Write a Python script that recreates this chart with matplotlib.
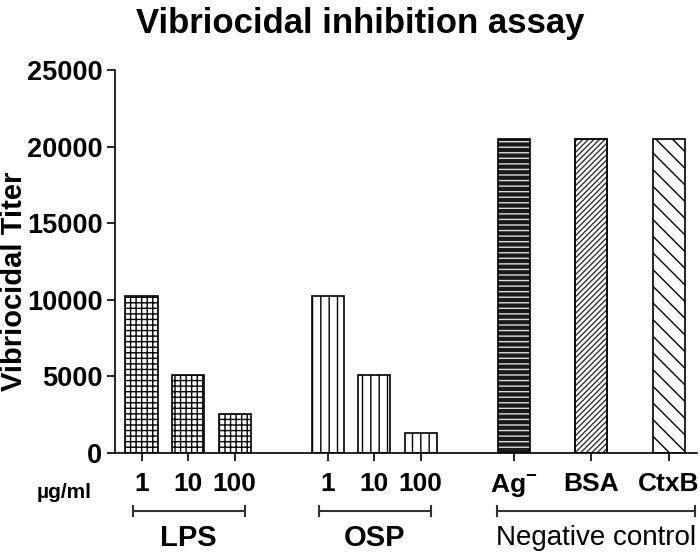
import matplotlib.pyplot as plt
from matplotlib.transforms import blended_transform_factory

plt.rcParams['font.family'] = ['Liberation Sans', 'DejaVu Sans']
plt.rcParams['mathtext.fontset'] = 'custom'
plt.rcParams['mathtext.rm'] = 'Liberation Sans:bold'
plt.rcParams['mathtext.bf'] = 'Liberation Sans:bold'
plt.rcParams['hatch.linewidth'] = 1.0

# data
lps_doses = ['1', '10', '100']
lps_titer = [10240, 5120, 2560]
osp_doses = ['1', '10', '100']
osp_titer = [10240, 5120, 1280]
neg_names = ['Ag$^{\\mathbf{-}}$', 'BSA', 'CtxB']
neg_titer = [20480, 20480, 20480]
groups = ['LPS', 'OSP', 'Negative control']
yticks = [0, 5000, 10000, 15000, 20000, 25000]

# layout
lps_x = [0, 1, 2]
osp_x = [4, 5, 6]
neg_x = [8, 9.67, 11.33]
bar_w = 0.69

fig = plt.figure(figsize=(7, 5.53), dpi=100)
ax = fig.add_axes([115 / 700, 1 - 453 / 553, (697 - 115) / 700, (453 - 70) / 553])

ax.bar(lps_x, lps_titer, bar_w, color='white', edgecolor='black', hatch='+++', linewidth=1.2)
ax.bar(osp_x, osp_titer, bar_w, color='white', edgecolor='black', hatch='||', linewidth=1.2)

# brick pattern for Ag-: dark fill with light mortar lines
ax.bar(neg_x[0], neg_titer[0], bar_w, color='#1a1a1a', edgecolor='#dddddd', hatch='---', linewidth=0)
ax.bar(neg_x[0], neg_titer[0], bar_w, fill=False, edgecolor='black', linewidth=1.2)
ax.bar(neg_x[1], neg_titer[1], bar_w, color='white', edgecolor='#333333', hatch='//////', linewidth=1.2)
ax.bar(neg_x[2], neg_titer[2], bar_w, color='white', edgecolor='black', hatch='\\\\', linewidth=1.2)
ax.bar(neg_x[1], neg_titer[1], bar_w, fill=False, edgecolor='black', linewidth=1.2)

ax.set_xlim(-0.57, 11.94)
ax.set_ylim(0, 25000)
ax.set_yticks(yticks)
ax.set_yticklabels([str(v) for v in yticks], fontsize=19.5, fontweight='bold')

ax.set_xticks(lps_x + osp_x + neg_x)
ax.set_xticklabels(lps_doses + osp_doses + neg_names, fontsize=19, fontweight='bold')
ax.tick_params(axis='x', length=6, width=1.2, pad=8)
ax.tick_params(axis='y', length=6, width=1.2, pad=3)

for s in ['top', 'right']:
    ax.spines[s].set_visible(False)
for s in ['left', 'bottom']:
    ax.spines[s].set_linewidth(1.2)

fig.text(14 / 700, 1 - 281 / 553, 'Vibriocidal Titer', rotation=90, ha='center', va='center',
         fontsize=21, fontweight='bold')
fig.text(360 / 700, 1 - 24 / 553, 'Vibriocidal inhibition assay', ha='center', va='center',
         fontsize=25, fontweight='bold')

tr = blended_transform_factory(ax.transData, ax.transAxes)
px = 1 / 383
bracket_y = -(511 - 453) * px
cap = 5 * px
spans = [(-0.19, 2.22), (3.81, 6.22), (7.64, 11.89)]
label_y = -(538 - 453) * px
for (x0, x1), name in zip(spans, groups):
    ax.plot([x0, x1], [bracket_y, bracket_y], color='#333333', lw=1.5, transform=tr, clip_on=False)
    for xe in (x0, x1):
        ax.plot([xe, xe], [bracket_y - cap, bracket_y + cap], color='#333333', lw=1.5,
                transform=tr, clip_on=False)
    ax.text((x0 + x1) / 2, label_y, name, transform=tr, ha='center', va='center',
            fontsize=21 if name != 'Negative control' else 20,
            fontweight='bold' if name != 'Negative control' else 'normal')

fig.text(64 / 700, 1 - 492 / 553, 'µg/ml', ha='center', va='center', fontsize=15, fontweight='bold')

fig.savefig('out.png', dpi=100)
